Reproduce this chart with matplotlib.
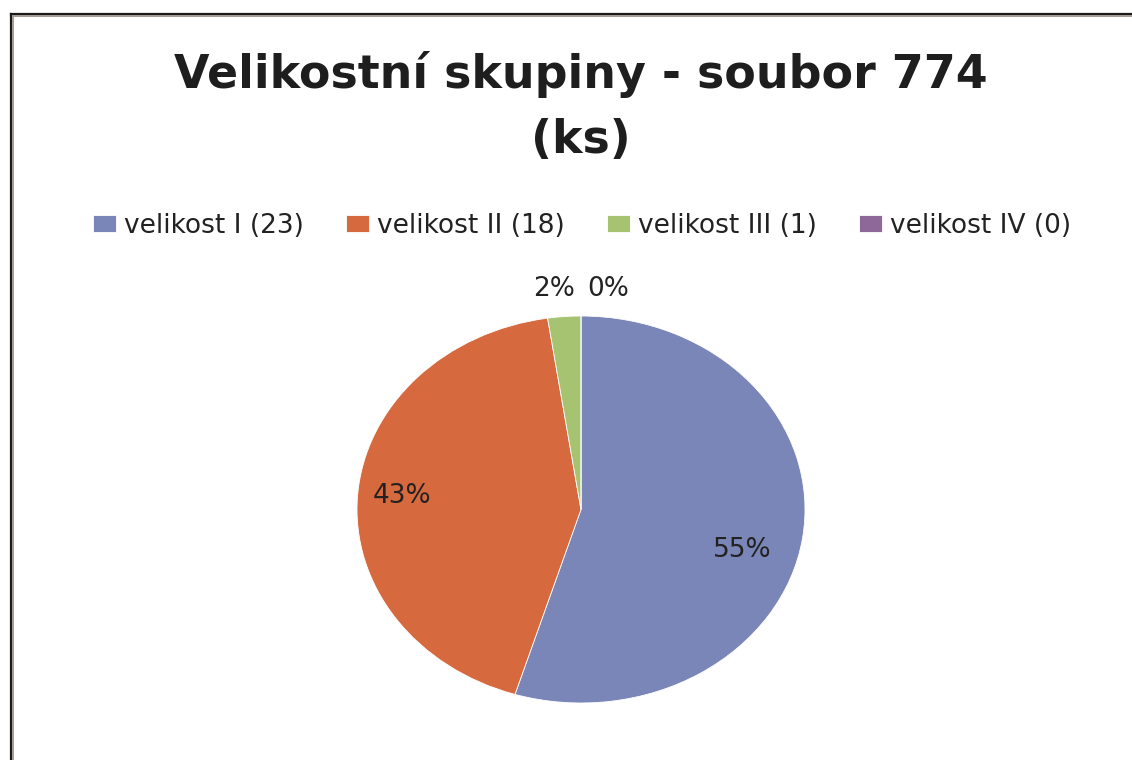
import matplotlib
matplotlib.use("Agg")
import matplotlib.pyplot as plt
from matplotlib.lines import Line2D

# data
labels = ["velikost I (23)", "velikost II (18)", "velikost III (1)", "velikost IV (0)"]
counts = [23, 18, 1, 0]
colors = ["#7A85B8", "#D66A3E", "#A6C372", "#8E6898"]

plt.rcParams['font.family'] = ['DejaVu Sans']

fig = plt.figure(figsize=(11.32, 7.6), dpi=100)
fig.patch.set_facecolor("white")

# chart frame (only top and left edge visible in the crop)
W, H = 1132.0, 760.0
fig.add_artist(Line2D([11/W, 11/W], [0, 1 - 14/H], color="#1a1a1a", lw=1.6, transform=fig.transFigure))
fig.add_artist(Line2D([11/W, 1], [1 - 14/H, 1 - 14/H], color="#1a1a1a", lw=1.6, transform=fig.transFigure))
fig.add_artist(Line2D([13/W, 13/W], [0, 1 - 16/H], color="#a59a95", lw=1.4, transform=fig.transFigure))
fig.add_artist(Line2D([13/W, 1], [1 - 16/H, 1 - 16/H], color="#a59a95", lw=1.4, transform=fig.transFigure))

fig.text(0.513, 0.902, "Velikostní skupiny - soubor 774", ha="center", va="center",
         fontsize=33, fontweight="bold", color="#1e1e1e")
fig.text(0.513, 0.815, "(ks)", ha="center", va="center",
         fontsize=33, fontweight="bold", color="#1e1e1e")

ax = fig.add_axes([357/W, 1 - 703/H, 448/W, 387/H])
wedges, texts, autotexts = ax.pie(counts, colors=colors, startangle=90, counterclock=False,
                                  autopct=lambda p: "%d%%" % round(p), pctdistance=0.77,
                                  wedgeprops=dict(edgecolor="white", linewidth=0.6),
                                  textprops=dict(fontsize=19, color="#222222"))
ax.set_aspect("auto")
ax.set_xlim(-1, 1)
ax.set_ylim(-1, 1)

autotexts[0].set_position((0.72, -0.21))
autotexts[1].set_position((-0.80, 0.07))
# small slices get their labels outside above the pie
autotexts[2].set_position((-0.12, 1.14))
autotexts[3].set_position((0.12, 1.14))

leg = fig.legend(wedges, labels, loc="center", bbox_to_anchor=(0.514, 0.703), ncol=4,
                 frameon=False, fontsize=19, handlelength=0.87, handleheight=0.6,
                 handletextpad=0.3, columnspacing=1.6, labelcolor="#222222")

fig.savefig("out.png", dpi=100)
